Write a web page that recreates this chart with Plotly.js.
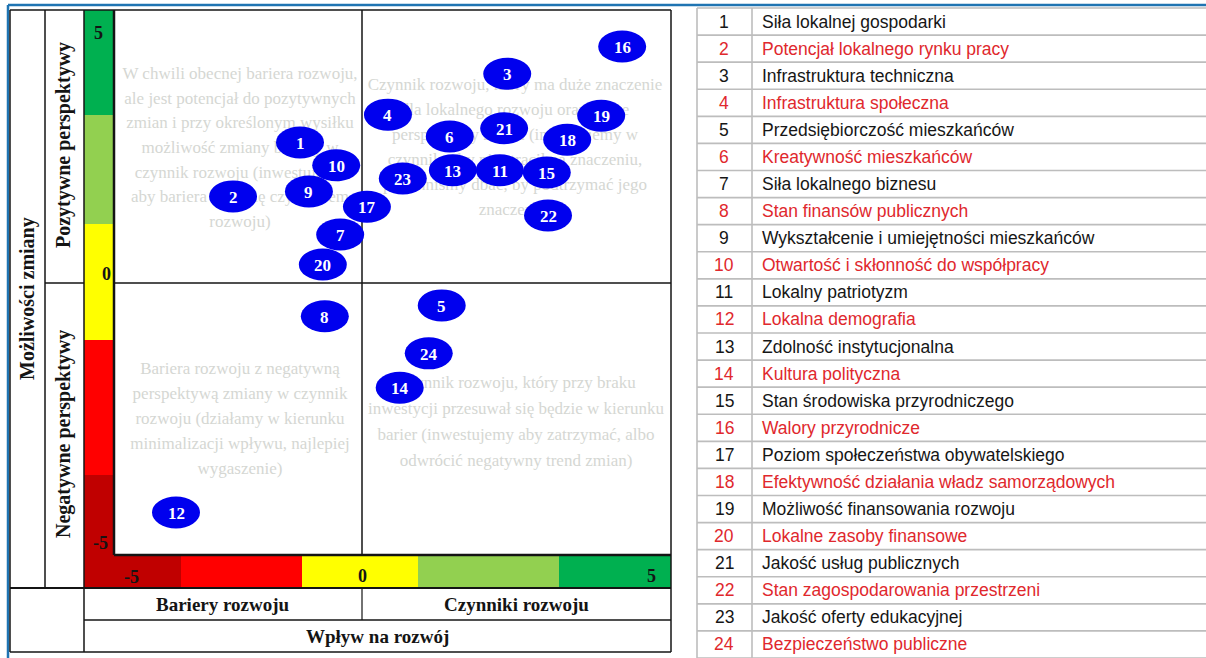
<!DOCTYPE html>
<html>
<head>
<meta charset="utf-8">
<script src="https://cdn.plot.ly/plotly-3.0.1.min.js"></script>
<style>html,body{margin:0;padding:0;background:#fff;overflow:hidden}</style>
</head>
<body>
<div id="chart" style="width:1206px;height:658px"></div>
<script>
// ---------- DATA ----------
const factorIds = [1,2,3,4,5,6,7,8,9,10,11,12,13,14,15,16,17,18,19,20,21,22,23,24];
const factorNames = [
  'Siła lokalnej gospodarki',
  'Potencjał lokalnego rynku pracy',
  'Infrastruktura techniczna',
  'Infrastruktura społeczna',
  'Przedsiębiorczość mieszkańców',
  'Kreatywność mieszkańców',
  'Siła lokalnego biznesu',
  'Stan finansów publicznych',
  'Wykształcenie i umiejętności mieszkańców',
  'Otwartość i skłonność do współpracy',
  'Lokalny patriotyzm',
  'Lokalna demografia',
  'Zdolność instytucjonalna',
  'Kultura polityczna',
  'Stan środowiska przyrodniczego',
  'Walory przyrodnicze',
  'Poziom społeczeństwa obywatelskiego',
  'Efektywność działania władz samorządowych',
  'Możliwość finansowania rozwoju',
  'Lokalne zasoby finansowe',
  'Jakość usług publicznych',
  'Stan zagospodarowania przestrzeni',
  'Jakość oferty edukacyjnej',
  'Bezpieczeństwo publiczne'
];
// Wpływ na rozwój (x, -5..5)
const impactValues = [-1.25,-2.60,2.35,0.42,1.29,1.42,-0.44,-0.75,-1.07,-0.52,2.23,-3.75,1.47,0.61,2.99,4.21,0.08,3.32,3.87,-0.79,2.30,3.01,0.66,1.08];
// Możliwości zmiany (y, -5..5)
const changeValues = [2.57,1.58,3.83,3.08,-0.42,2.68,0.88,-0.62,1.67,2.15,2.06,-4.22,2.06,-1.93,2.02,4.33,1.39,2.62,3.06,0.33,2.83,1.23,1.91,-1.30];

const xTickLabels = ['-5','0','5'];
const yTickLabels = ['5','0','-5'];
const yAxisTitle = 'Możliwości zmiany';
const yHalfTitles = ['Pozytywne perspektywy','Negatywne perspektywy'];
const xHalfTitles = ['Bariery rozwoju','Czynniki rozwoju'];
const xAxisTitle = 'Wpływ na rozwój';

const textTopLeft = ['W chwili obecnej bariera rozwoju,','ale jest potencjał do pozytywnych','zmian i przy określonym wysiłku','możliwość zmiany bariery w','czynnik rozwoju (inwestujemy','aby bariera stała się czynnikiem','rozwoju)'];
const textTopRight = ['Czynnik rozwoju, który ma duże znaczenie','dla lokalnego rozwoju oraz dobre','perspektywy zmian (inwestujemy w','czynnik, aby nie stracił na znaczeniu,','powinniśmy dbać, by podtrzymać jego','znaczenie)'];
const textBottomLeft = ['Bariera rozwoju z negatywną','perspektywą zmiany w czynnik','rozwoju (działamy w kierunku','minimalizacji wpływu, najlepiej','wygaszenie)'];
const textBottomRight = ['Czynnik rozwoju, który przy braku','inwestycji przesuwał się będzie w kierunku','barier (inwestujemy aby zatrzymać, albo','odwrócić negatywny trend zmian)'];

// ---------- LAYOUT HELPERS ----------
const W = 1206, H = 658;
const fx = p => p / W, fy = p => 1 - p / H;
const shapes = [], annotations = [];
const SERIF = 'Liberation Serif, Times New Roman, serif';
const SANS = 'Liberation Sans, Arial, sans-serif';
const INK = '#141414';

// plot area (pixels) and the zero lines; the scale differs on each side of zero
const PL = 114, PR = 671, PZ = 362, PT = 10, PB = 555;

function rect(x0, y0, x1, y1, c) {
  shapes.push({type:'rect', xref:'paper', yref:'paper', x0:fx(x0), x1:fx(x1), y0:fy(y1), y1:fy(y0),
    fillcolor:c, line:{width:0}, layer:'below'});
}
function seg(x0, y0, x1, y1, c, w) {
  shapes.push({type:'line', xref:'paper', yref:'paper', x0:fx(x0), x1:fx(x1), y0:fy(y0), y1:fy(y1),
    line:{color:c, width:w}, layer:'below'});
}
function label(x, y, text, opt) {
  annotations.push(Object.assign({xref:'paper', yref:'paper', x:fx(x), y:fy(y), text:text,
    showarrow:false, xanchor:'center', yanchor:'middle',
    font:{family:SERIF, size:19, color:INK}}, opt || {}));
}

// colour scales
const DG = '#00B050', LG = '#92D050', YE = '#FFFF00', RE = '#FF0000', DR = '#C00000';
[[10,115,DG],[115,224,LG],[224,340,YE],[340,475,RE],[475,588,DR]].forEach(s => rect(84, s[0], 114, s[1], s[2]));
[[84,181,DR],[181,302,RE],[302,418,YE],[418,559,LG],[559,671,DG]].forEach(s => rect(s[0], 555, s[1], 588, s[2]));

// frame (blue)
seg(8, 5, 1206, 5, '#1f74b2', 2.5);
seg(8, 5, 8, 658, '#1f74b2', 2.5);

// grid of the left panel
seg(10, 10, 671, 10, INK, 1.5);
seg(10, 652, 671, 652, INK, 1.5);
seg(10, 10, 10, 652, INK, 1.5);
seg(671, 10, 671, 652, INK, 1.5);
seg(45, 10, 45, 588, INK, 1.5);
seg(84, 10, 84, 652, INK, 1.5);
seg(114, 10, 114, 555, INK, 2.5);
seg(114, 555, 671, 555, INK, 2.5);
seg(362, 10, 362, 555, INK, 1.5);
seg(362, 588, 362, 620, INK, 1.2);
seg(45, 283, 84, 283, INK, 1.5);
seg(114, 283, 671, 283, INK, 1.5);
seg(10, 588, 671, 588, INK, 2);
seg(84, 620, 671, 620, INK, 1.5);

// axis tick labels on colour bars
const tickFont = {family:SERIF, size:18, color:INK};
label(131, 577, '<b>' + xTickLabels[0] + '</b>', {font:tickFont});
label(362, 576, '<b>' + xTickLabels[1] + '</b>', {font:tickFont});
label(651, 576, '<b>' + xTickLabels[2] + '</b>', {font:tickFont});
label(98, 33, '<b>' + yTickLabels[0] + '</b>', {font:tickFont});
label(106, 274, '<b>' + yTickLabels[1] + '</b>', {font:tickFont});
label(101, 543, '<b>' + yTickLabels[2] + '</b>', {font:tickFont});

// axis titles
label(27, 299, '<b>' + yAxisTitle + '</b>', {textangle:-90, font:{family:SERIF, size:20, color:INK}});
label(64, 145, '<b>' + yHalfTitles[0] + '</b>', {textangle:-90, font:{family:SERIF, size:20, color:INK}});
label(64, 434, '<b>' + yHalfTitles[1] + '</b>', {textangle:-90, font:{family:SERIF, size:20, color:INK}});
label(223, 604, '<b>' + xHalfTitles[0] + '</b>');
label(516, 604, '<b>' + xHalfTitles[1] + '</b>');
label(377, 636, '<b>' + xAxisTitle + '</b>');

// legend table on the right
const T_TOP = 8, T_BOT = 658, T_LEFT = 697, T_DIV = 752;
const rowH = (T_BOT - T_TOP) / factorNames.length;
const RED = '#e0282d', GRID = '#bdbdbd';
for (let i = 0; i <= factorNames.length; i++) seg(T_LEFT, T_TOP + i * rowH, W, T_TOP + i * rowH, GRID, 1.6);
seg(T_LEFT, T_TOP, T_LEFT, T_BOT, GRID, 1.6);
seg(T_DIV, T_TOP, T_DIV, T_BOT, GRID, 1.6);
factorNames.forEach((name, i) => {
  const c = (i % 2 === 1) ? RED : '#161616';
  const yc = T_TOP + (i + 0.5) * rowH;
  label(724, yc, String(factorIds[i]), {font:{family:SANS, size:17.5, color:c}});
  label(760, yc, name, {xanchor:'left', font:{family:SANS, size:17.5, color:c}});
});

// bubbles (ellipses) and numbers, through the two x scales (barriers / factors)
const left = {x:[], y:[], t:[]}, right = {x:[], y:[], t:[]};
factorIds.forEach((id, i) => {
  const xv = impactValues[i], yv = changeValues[i];
  const ax = xv < 0 ? 'x' : 'x2';
  const bucket = xv < 0 ? left : right;
  bucket.x.push(xv); bucket.y.push(yv); bucket.t.push(id + '. ' + factorNames[i]);
  shapes.push({type:'circle', xref:ax, yref:'y', xsizemode:'pixel', ysizemode:'pixel',
    xanchor:xv, yanchor:yv, x0:-24, x1:24, y0:-16, y1:16,
    fillcolor:'#0000ee', line:{width:0}, layer:'above'});
  annotations.push({xref:ax, yref:'y', x:xv, y:yv, text:'<b>' + id + '</b>', showarrow:false,
    xanchor:'center', yanchor:'middle', yshift:-1,
    font:{family:SERIF, size:17, color:'#ffffff'}});
});

// quadrant description texts (pixel overlay axes)
const qx = [], qy = [], qt = [];
function addBlock(lines, cx, y0, step) {
  lines.forEach((s, i) => { qx.push(cx); qy.push(y0 + i * step); qt.push(s); });
}
addBlock(textTopLeft, 240, 75, 24.6);
addBlock(textTopRight, 515, 86, 25);
addBlock(textBottomLeft, 240, 370, 25);
addBlock(textBottomRight, 516, 384, 26);

const traces = [
  {type:'scatter', mode:'markers', x:left.x, y:left.y, text:left.t, xaxis:'x', yaxis:'y',
    marker:{size:30, opacity:0}, hoverinfo:'text', showlegend:false},
  {type:'scatter', mode:'markers', x:right.x, y:right.y, text:right.t, xaxis:'x2', yaxis:'y',
    marker:{size:30, opacity:0}, hoverinfo:'text', showlegend:false},
  {type:'scatter', mode:'text', x:qx, y:qy, text:qt, xaxis:'x3', yaxis:'y3',
    textposition:'middle center', textfont:{family:SERIF, size:17, color:'#d5d7d3'},
    hoverinfo:'skip', showlegend:false, cliponaxis:false}
];

// both x scales span the whole plot area: x holds barriers (-5 at left edge, 0 at centre line),
// x2 holds factors (0 at centre line, 5 at right edge)
const leftScale = (PZ - PL) / 5, rightScale = (PR - PZ) / 5;
const hidden = {visible:false, fixedrange:true, showgrid:false, zeroline:false};
const layout = {
  width:W, height:H, margin:{l:0, r:0, t:0, b:0},
  paper_bgcolor:'#ffffff', plot_bgcolor:'rgba(0,0,0,0)', showlegend:false,
  xaxis:Object.assign({domain:[fx(PL), fx(PR)], range:[-5, (PR - PZ) / leftScale], anchor:'y'}, hidden),
  xaxis2:Object.assign({domain:[fx(PL), fx(PR)], range:[-(PZ - PL) / rightScale, 5], anchor:'y', overlaying:'x'}, hidden),
  yaxis:Object.assign({domain:[fy(PB), fy(PT)], range:[-5, 5], anchor:'x'}, hidden),
  xaxis3:Object.assign({domain:[0, 1], range:[0, W], anchor:'y3'}, hidden),
  yaxis3:Object.assign({domain:[0, 1], range:[H, 0], anchor:'x3'}, hidden),
  shapes:shapes, annotations:annotations
};
Plotly.newPlot('chart', traces, layout, {displayModeBar:false, responsive:false});
</script>
</body>
</html>
